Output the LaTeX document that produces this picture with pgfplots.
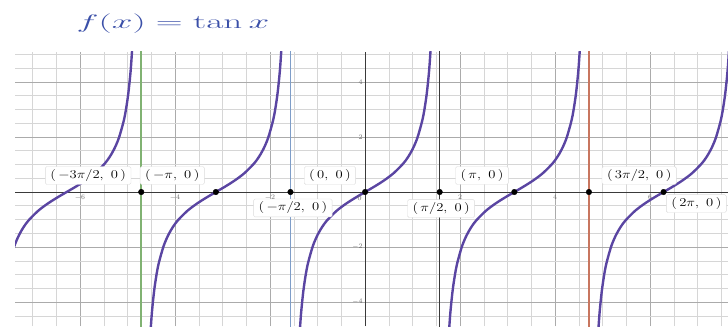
\documentclass[border=0pt]{standalone}
\usepackage{pgfplots}
\usepackage{graphicx}
\pgfplotsset{compat=1.18}

\definecolor{curve}{HTML}{5A45A2}
\definecolor{ink}{HTML}{3A4FA8}
\definecolor{vgreen}{HTML}{80B272}
\definecolor{vblue}{HTML}{7E9DC8}
\definecolor{vred}{HTML}{C8765F}
\definecolor{vdark}{HTML}{3A3A3A}
\definecolor{majgrid}{HTML}{ABABAB}
\definecolor{mingrid}{HTML}{D6D6D6}
\definecolor{ticktext}{HTML}{6A6A6A}

\tikzset{ptlabel/.style={fill=white, draw=black!14, rounded corners=1.5pt,
  inner xsep=5pt, inner ysep=3pt, font=\fontsize{12}{14}\selectfont}}
\newcommand{\pt}[1]{\scalebox{1.22}[1]{$#1$}}

\begin{document}
\begin{tikzpicture}[x=1bp, y=1bp]
\useasboundingbox (0,0) rectangle (728,326);

% handwritten-style title
\node[text=ink] at (173,302) {\scalebox{1.8}[0.95]{\fontsize{20}{24}\selectfont$f(x)=\tan x$}};

\begin{axis}[
  at={(15bp,0bp)}, anchor=south west,
  scale only axis, width=713bp, height=274bp,
  xmin=-7.37, xmax=7.64, ymin=-4.87, ymax=5.09,
  axis lines=middle,
  axis line style={vdark, line width=1pt, -},
  xtick={-6,-4,-2,2,4,6}, ytick={-4,-2,2,4},
  minor xtick={-7,-6.5,...,7.5},
  minor ytick={-4.5,-4,...,5},
  major tick length=0pt, minor tick length=0pt,
  grid=both,
  major grid style={majgrid, line width=0.7pt},
  minor grid style={mingrid, line width=0.6pt},
  tick label style={font=\fontsize{7.5}{8}\selectfont, text=ticktext},
  xticklabel style={anchor=north, yshift=1pt},
  yticklabel style={anchor=east, xshift=1pt},
  clip=true,
]

% vertical guide lines at x = -3pi/2, -pi/2, pi/2, 3pi/2
\addplot[vgreen, line width=1.5pt] coordinates {(-4.7124,-6) (-4.7124,6)};
\addplot[vblue, line width=1.5pt] coordinates {(-1.5708,-6) (-1.5708,6)};
\addplot[vdark, line width=1.5pt] coordinates {(1.5708,-6) (1.5708,6)};
\addplot[vred, line width=1.5pt] coordinates {(4.7124,-6) (4.7124,6)};

% branches of tan x
\addplot[curve, line width=2.4pt, smooth] coordinates {
 (-7.6741,-5.5) (-7.6332,-4.4552) (-7.5832,-3.6021) (-7.5332,-3.0096)
 (-7.4832,-2.5722) (-7.3832,-1.9648) (-7.2832,-1.5574) (-7.1832,-1.2602)
 (-7.0832,-1.0296) (-6.8832,-0.6841) (-6.6832,-0.4228) (-6.4832,-0.2027)
 (-6.2832,0) (-6.0832,0.2027) (-5.8832,0.4228) (-5.6832,0.6841)
 (-5.4832,1.0296) (-5.3832,1.2602) (-5.2832,1.5574) (-5.1832,1.9648)
 (-5.0832,2.5722) (-5.0332,3.0096) (-4.9832,3.6021) (-4.9332,4.4552)
 (-4.8923,5.5)};
\addplot[curve, line width=2.4pt, smooth] coordinates {
 (-4.5325,-5.5) (-4.4916,-4.4552) (-4.4416,-3.6021) (-4.3916,-3.0096)
 (-4.3416,-2.5722) (-4.2416,-1.9648) (-4.1416,-1.5574) (-4.0416,-1.2602)
 (-3.9416,-1.0296) (-3.7416,-0.6841) (-3.5416,-0.4228) (-3.3416,-0.2027)
 (-3.1416,0) (-2.9416,0.2027) (-2.7416,0.4228) (-2.5416,0.6841)
 (-2.3416,1.0296) (-2.2416,1.2602) (-2.1416,1.5574) (-2.0416,1.9648)
 (-1.9416,2.5722) (-1.8916,3.0096) (-1.8416,3.6021) (-1.7916,4.4552)
 (-1.7507,5.5)};
\addplot[curve, line width=2.4pt, smooth] coordinates {
 (-1.3909,-5.5) (-1.35,-4.4552) (-1.3,-3.6021) (-1.25,-3.0096)
 (-1.2,-2.5722) (-1.1,-1.9648) (-1.0,-1.5574) (-0.9,-1.2602)
 (-0.8,-1.0296) (-0.6,-0.6841) (-0.4,-0.4228) (-0.2,-0.2027)
 (0,0) (0.2,0.2027) (0.4,0.4228) (0.6,0.6841)
 (0.8,1.0296) (0.9,1.2602) (1.0,1.5574) (1.1,1.9648)
 (1.2,2.5722) (1.25,3.0096) (1.3,3.6021) (1.35,4.4552)
 (1.3909,5.5)};
\addplot[curve, line width=2.4pt, smooth] coordinates {
 (1.7507,-5.5) (1.7916,-4.4552) (1.8416,-3.6021) (1.8916,-3.0096)
 (1.9416,-2.5722) (2.0416,-1.9648) (2.1416,-1.5574) (2.2416,-1.2602)
 (2.3416,-1.0296) (2.5416,-0.6841) (2.7416,-0.4228) (2.9416,-0.2027)
 (3.1416,0) (3.3416,0.2027) (3.5416,0.4228) (3.7416,0.6841)
 (3.9416,1.0296) (4.0416,1.2602) (4.1416,1.5574) (4.2416,1.9648)
 (4.3416,2.5722) (4.3916,3.0096) (4.4416,3.6021) (4.4916,4.4552)
 (4.5325,5.5)};
\addplot[curve, line width=2.4pt, smooth] coordinates {
 (4.8923,-5.5) (4.9332,-4.4552) (4.9832,-3.6021) (5.0332,-3.0096)
 (5.0832,-2.5722) (5.1832,-1.9648) (5.2832,-1.5574) (5.3832,-1.2602)
 (5.4832,-1.0296) (5.6832,-0.6841) (5.8832,-0.4228) (6.0832,-0.2027)
 (6.2832,0) (6.4832,0.2027) (6.6832,0.4228) (6.8832,0.6841)
 (7.0832,1.0296) (7.1832,1.2602) (7.2832,1.5574) (7.3832,1.9648)
 (7.4832,2.5722) (7.5332,3.0096) (7.5832,3.6021) (7.6332,4.4552)
 (7.6741,5.5)};

% marked points on the x-axis
\addplot[only marks, mark=*, mark size=2.8pt, black] coordinates {
 (-4.7124,0) (-3.1416,0) (-1.5708,0) (0,0)
 (1.5708,0) (3.1416,0) (4.7124,0) (6.2832,0)};

% origin tick label
\node[font=\fontsize{7.5}{8}\selectfont, text=ticktext, anchor=north east]
  at (axis cs:0,0) {0};

% point labels
\node[ptlabel] at (axis cs:-5.83,0.60) {\pt{(\,-3\pi/2,\ 0\,)}};
\node[ptlabel] at (axis cs:-4.06,0.60) {\pt{(\,-\pi,\ 0\,)}};
\node[ptlabel] at (axis cs:-0.74,0.60) {\pt{(\,0,\ 0\,)}};
\node[ptlabel] at (axis cs:-1.52,-0.58) {\pt{(\,-\pi/2,\ 0\,)}};
\node[ptlabel] at (axis cs:1.60,-0.60) {\pt{(\,\pi/2,\ 0\,)}};
\node[ptlabel] at (axis cs:2.46,0.60) {\pt{(\,\pi,\ 0\,)}};
\node[ptlabel] at (axis cs:5.77,0.60) {\pt{(\,3\pi/2,\ 0\,)}};
\node[ptlabel, anchor=east, xshift=-1.5pt] at (axis cs:7.64,-0.42) {\pt{(\,2\pi,\ 0\,)}};
\end{axis}
\end{tikzpicture}
\end{document}
